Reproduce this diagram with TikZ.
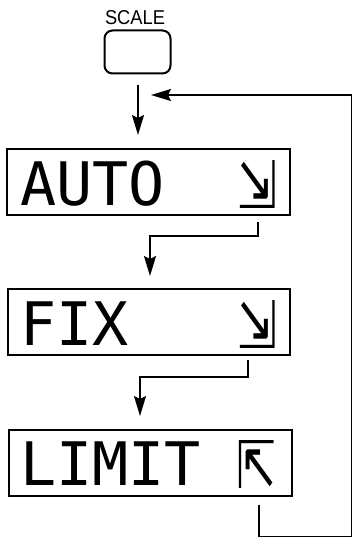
\documentclass[tikz,border=0pt]{standalone}
\usepackage{fontspec}
\setmainfont{Liberation Sans}
\newfontfamily\lcdfont{DejaVu Sans Mono}
\newfontfamily\symfont{DejaVu Sans}
\usetikzlibrary{arrows.meta,calc}
\tikzset{
  lcdbox/.style={draw, line width=2.4pt, minimum height=66pt, inner sep=0pt},
  lcdtext/.style={anchor=base west, inner sep=0pt, font=\lcdfont\fontsize{60}{60}\selectfont},
  lcdsym/.style={inner sep=0pt, font=\symfont\fontsize{60}{60}\selectfont},
  labeltext/.style={inner sep=0pt},
  flow/.style={line width=2pt, -{Stealth[length=20pt,width=12pt,inset=3pt]}},
  flowline/.style={line width=2pt}
}
\begin{document}
\begin{tikzpicture}[x=1pt,y=-1pt]
\useasboundingbox (0,0) rectangle (352,537);
% button
\node[labeltext] (lbl) at (135,18) {\resizebox{60pt}{14pt}{SCALE}};
\node[draw, line width=2pt, rounded corners=8pt, minimum width=66pt, minimum height=43pt, inner sep=0pt] (btn) at (137.5,52) {};
% boxes
\node[lcdbox, minimum width=283pt] (auto) at (148.5,182) {};
\node[lcdbox, minimum width=282pt] (fix) at (149,322) {};
\node[lcdbox, minimum width=283pt] (limit) at (150.5,463) {};
% texts
\node[lcdtext] (tauto) at (20,205) {AUTO};
\node[lcdtext] (tfix) at (20,345) {FIX};
\node[lcdtext] (tlimit) at (20,485) {LIMIT};
\node[lcdsym] (sauto) at (257,184) {\resizebox{40pt}{48pt}{⇲}};
\node[lcdsym] (sfix) at (257,324) {\resizebox{40pt}{48pt}{⇲}};
\node[lcdsym] (slimit) at (256,464) {\resizebox{40pt}{48pt}{⇱}};
% connectors
\coordinate (j0) at (138,85);
\draw[flow] (j0) -- (138,135);
\coordinate (r1) at (259,505);
\coordinate (r2) at (259,536.5);
\coordinate (r3) at (352,536.5);
\coordinate (r4) at (352,95);
\coordinate (r5) at (151,95);
\draw[flowline] (r1) -- (r2) -- (r3) -- (r4) -- (260,95);
\draw[flow] (260,95) -- (r5);
\coordinate (a1) at (258,222);
\draw[flow] (a1) |- (150,236) -- (150,276);
\coordinate (f1) at (248,360);
\draw[flow] (f1) |- (140,377) -- (140,416);
\end{tikzpicture}
\end{document}
